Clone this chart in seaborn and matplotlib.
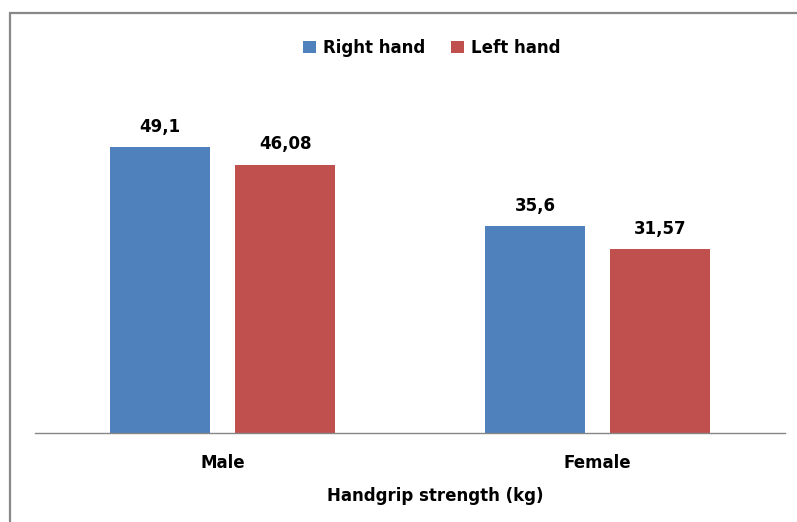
import matplotlib
matplotlib.use("Agg")
import matplotlib.pyplot as plt
import seaborn as sns
import pandas as pd
from matplotlib.patches import Rectangle, Patch

categories = ["Male", "Female"]
series_names = ["Right hand", "Left hand"]
right_hand = [49.1, 35.6]
left_hand = [46.08, 31.57]
right_labels = ["49,1", "35,6"]
left_labels = ["46,08", "31,57"]
colors = ["#4F81BD", "#C0504D"]

df = pd.DataFrame({
    "Sex": categories * 2,
    "Hand": [series_names[0]] * 2 + [series_names[1]] * 2,
    "Value": right_hand + left_hand,
})

sns.set_theme(style="white")
plt.rcParams["font.family"] = ["DejaVu Sans"]
plt.rcParams["text.color"] = "black"
plt.rcParams["axes.labelcolor"] = "black"
plt.rcParams["xtick.color"] = "black"

fig = plt.figure(figsize=(7.97, 5.22), dpi=100)
ax = fig.add_axes([35 / 797, 89 / 522, 750 / 797, 349.5 / 522])

sns.barplot(data=df, x="Sex", y="Value", hue="Hand", order=categories,
            hue_order=series_names, palette=colors, width=0.6667, gap=0.2,
            saturation=1, ax=ax, legend=False, errorbar=None, linewidth=0)

ax.set_ylim(0, 60)
ax.set_xlim(-0.5, 1.5)

for cont, labs in zip(ax.containers, [right_labels, left_labels]):
    ax.bar_label(cont, labels=labs, padding=8, fontsize=12, fontweight="bold",
                 color="black")

for s in ["top", "right", "left"]:
    ax.spines[s].set_visible(False)
ax.spines["bottom"].set_color("#868686")
ax.spines["bottom"].set_linewidth(1.0)
ax.set_yticks([])
ax.set_ylabel("")
ax.tick_params(axis="x", length=0, pad=15, labelsize=12, labelcolor="black")
for t in ax.get_xticklabels():
    t.set_fontweight("bold")
ax.set_xlabel("Handgrip strength (kg)", fontsize=12, fontweight="bold",
              labelpad=11, color="black")
ax.xaxis.label.set_x(0.534)

handles = [Patch(facecolor=c, edgecolor="none") for c in colors]
fig.legend(handles, series_names, loc="center", bbox_to_anchor=(432 / 797, 1 - 48 / 522),
           ncol=2, frameon=False, prop={"size": 12, "weight": "bold"},
           handlelength=0.75, handleheight=0.75, handletextpad=0.45,
           columnspacing=1.55, labelcolor="black")

fig.add_artist(Rectangle((10 / 797, -0.2), 1.2, 1.2 - 13 / 522,
                         transform=fig.transFigure, fill=False,
                         edgecolor="#888888", linewidth=1.6))

fig.savefig("out.png", dpi=100)
